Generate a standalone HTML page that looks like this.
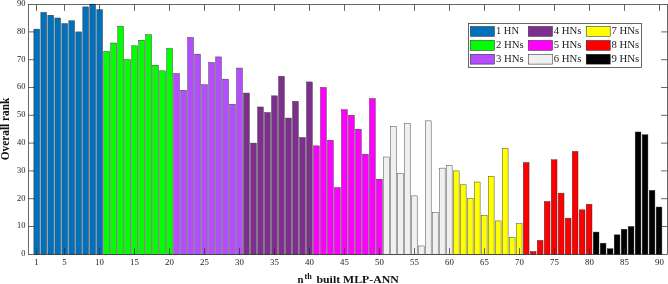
<!DOCTYPE html><html><head><meta charset="utf-8"><title>chart</title><style>html,body{margin:0;padding:0;background:#fff}svg{display:block}text{font-family:"Liberation Serif",serif}</style></head><body>
<svg width="668" height="284" viewBox="0 0 668 284">
<rect width="668" height="284" fill="#fff"/>
<rect x="33.87" y="29.12" width="5.75" height="225.38" fill="#0072bd" stroke="#2a2a2a" stroke-width="0.42"/>
<rect x="40.86" y="12.44" width="5.75" height="242.06" fill="#0072bd" stroke="#2a2a2a" stroke-width="0.42"/>
<rect x="47.85" y="15.22" width="5.75" height="239.28" fill="#0072bd" stroke="#2a2a2a" stroke-width="0.42"/>
<rect x="54.84" y="18.00" width="5.75" height="236.50" fill="#0072bd" stroke="#2a2a2a" stroke-width="0.42"/>
<rect x="61.84" y="23.56" width="5.75" height="230.94" fill="#0072bd" stroke="#2a2a2a" stroke-width="0.42"/>
<rect x="68.83" y="20.78" width="5.75" height="233.72" fill="#0072bd" stroke="#2a2a2a" stroke-width="0.42"/>
<rect x="75.82" y="31.90" width="5.75" height="222.60" fill="#0072bd" stroke="#2a2a2a" stroke-width="0.42"/>
<rect x="82.81" y="6.88" width="5.75" height="247.62" fill="#0072bd" stroke="#2a2a2a" stroke-width="0.42"/>
<rect x="89.80" y="4.10" width="5.75" height="250.40" fill="#0072bd" stroke="#2a2a2a" stroke-width="0.42"/>
<rect x="96.80" y="9.66" width="5.75" height="244.84" fill="#0072bd" stroke="#2a2a2a" stroke-width="0.42"/>
<rect x="103.79" y="51.36" width="5.75" height="203.14" fill="#00ff00" stroke="#2a2a2a" stroke-width="0.42"/>
<rect x="110.78" y="43.02" width="5.75" height="211.48" fill="#00ff00" stroke="#2a2a2a" stroke-width="0.42"/>
<rect x="117.77" y="26.34" width="5.75" height="228.16" fill="#00ff00" stroke="#2a2a2a" stroke-width="0.42"/>
<rect x="124.76" y="59.70" width="5.75" height="194.80" fill="#00ff00" stroke="#2a2a2a" stroke-width="0.42"/>
<rect x="131.75" y="45.80" width="5.75" height="208.70" fill="#00ff00" stroke="#2a2a2a" stroke-width="0.42"/>
<rect x="138.75" y="40.24" width="5.75" height="214.26" fill="#00ff00" stroke="#2a2a2a" stroke-width="0.42"/>
<rect x="145.74" y="34.68" width="5.75" height="219.82" fill="#00ff00" stroke="#2a2a2a" stroke-width="0.42"/>
<rect x="152.73" y="65.26" width="5.75" height="189.24" fill="#00ff00" stroke="#2a2a2a" stroke-width="0.42"/>
<rect x="159.72" y="70.82" width="5.75" height="183.68" fill="#00ff00" stroke="#2a2a2a" stroke-width="0.42"/>
<rect x="166.72" y="48.58" width="5.75" height="205.92" fill="#00ff00" stroke="#2a2a2a" stroke-width="0.42"/>
<rect x="173.71" y="73.60" width="5.75" height="180.90" fill="#b34dff" stroke="#2a2a2a" stroke-width="0.42"/>
<rect x="180.70" y="90.28" width="5.75" height="164.22" fill="#b34dff" stroke="#2a2a2a" stroke-width="0.42"/>
<rect x="187.69" y="37.46" width="5.75" height="217.04" fill="#b34dff" stroke="#2a2a2a" stroke-width="0.42"/>
<rect x="194.68" y="54.14" width="5.75" height="200.36" fill="#b34dff" stroke="#2a2a2a" stroke-width="0.42"/>
<rect x="201.68" y="84.72" width="5.75" height="169.78" fill="#b34dff" stroke="#2a2a2a" stroke-width="0.42"/>
<rect x="208.67" y="62.48" width="5.75" height="192.02" fill="#b34dff" stroke="#2a2a2a" stroke-width="0.42"/>
<rect x="215.66" y="56.92" width="5.75" height="197.58" fill="#b34dff" stroke="#2a2a2a" stroke-width="0.42"/>
<rect x="222.65" y="79.16" width="5.75" height="175.34" fill="#b34dff" stroke="#2a2a2a" stroke-width="0.42"/>
<rect x="229.64" y="104.18" width="5.75" height="150.32" fill="#b34dff" stroke="#2a2a2a" stroke-width="0.42"/>
<rect x="236.63" y="68.04" width="5.75" height="186.46" fill="#b34dff" stroke="#2a2a2a" stroke-width="0.42"/>
<rect x="243.63" y="93.06" width="5.75" height="161.44" fill="#7e2f8e" stroke="#2a2a2a" stroke-width="0.42"/>
<rect x="250.62" y="143.10" width="5.75" height="111.40" fill="#7e2f8e" stroke="#2a2a2a" stroke-width="0.42"/>
<rect x="257.61" y="106.96" width="5.75" height="147.54" fill="#7e2f8e" stroke="#2a2a2a" stroke-width="0.42"/>
<rect x="264.60" y="112.52" width="5.75" height="141.98" fill="#7e2f8e" stroke="#2a2a2a" stroke-width="0.42"/>
<rect x="271.60" y="95.84" width="5.75" height="158.66" fill="#7e2f8e" stroke="#2a2a2a" stroke-width="0.42"/>
<rect x="278.59" y="76.38" width="5.75" height="178.12" fill="#7e2f8e" stroke="#2a2a2a" stroke-width="0.42"/>
<rect x="285.58" y="118.08" width="5.75" height="136.42" fill="#7e2f8e" stroke="#2a2a2a" stroke-width="0.42"/>
<rect x="292.57" y="101.40" width="5.75" height="153.10" fill="#7e2f8e" stroke="#2a2a2a" stroke-width="0.42"/>
<rect x="299.56" y="137.54" width="5.75" height="116.96" fill="#7e2f8e" stroke="#2a2a2a" stroke-width="0.42"/>
<rect x="306.56" y="81.94" width="5.75" height="172.56" fill="#7e2f8e" stroke="#2a2a2a" stroke-width="0.42"/>
<rect x="313.55" y="145.88" width="5.75" height="108.62" fill="#ff00ff" stroke="#2a2a2a" stroke-width="0.42"/>
<rect x="320.54" y="87.50" width="5.75" height="167.00" fill="#ff00ff" stroke="#2a2a2a" stroke-width="0.42"/>
<rect x="327.53" y="140.32" width="5.75" height="114.18" fill="#ff00ff" stroke="#2a2a2a" stroke-width="0.42"/>
<rect x="334.52" y="187.58" width="5.75" height="66.92" fill="#ff00ff" stroke="#2a2a2a" stroke-width="0.42"/>
<rect x="341.51" y="109.74" width="5.75" height="144.76" fill="#ff00ff" stroke="#2a2a2a" stroke-width="0.42"/>
<rect x="348.51" y="115.30" width="5.75" height="139.20" fill="#ff00ff" stroke="#2a2a2a" stroke-width="0.42"/>
<rect x="355.50" y="129.20" width="5.75" height="125.30" fill="#ff00ff" stroke="#2a2a2a" stroke-width="0.42"/>
<rect x="362.49" y="154.22" width="5.75" height="100.28" fill="#ff00ff" stroke="#2a2a2a" stroke-width="0.42"/>
<rect x="369.48" y="98.62" width="5.75" height="155.88" fill="#ff00ff" stroke="#2a2a2a" stroke-width="0.42"/>
<rect x="376.48" y="179.24" width="5.75" height="75.26" fill="#ff00ff" stroke="#2a2a2a" stroke-width="0.42"/>
<rect x="383.47" y="157.00" width="5.75" height="97.50" fill="#f0f0f0" stroke="#2a2a2a" stroke-width="0.42"/>
<rect x="390.46" y="126.42" width="5.75" height="128.08" fill="#f0f0f0" stroke="#2a2a2a" stroke-width="0.42"/>
<rect x="397.45" y="173.68" width="5.75" height="80.82" fill="#f0f0f0" stroke="#2a2a2a" stroke-width="0.42"/>
<rect x="404.44" y="123.64" width="5.75" height="130.86" fill="#f0f0f0" stroke="#2a2a2a" stroke-width="0.42"/>
<rect x="411.44" y="195.92" width="5.75" height="58.58" fill="#f0f0f0" stroke="#2a2a2a" stroke-width="0.42"/>
<rect x="418.43" y="245.96" width="5.75" height="8.54" fill="#f0f0f0" stroke="#2a2a2a" stroke-width="0.42"/>
<rect x="425.42" y="120.86" width="5.75" height="133.64" fill="#f0f0f0" stroke="#2a2a2a" stroke-width="0.42"/>
<rect x="432.41" y="212.60" width="5.75" height="41.90" fill="#f0f0f0" stroke="#2a2a2a" stroke-width="0.42"/>
<rect x="439.40" y="168.12" width="5.75" height="86.38" fill="#f0f0f0" stroke="#2a2a2a" stroke-width="0.42"/>
<rect x="446.39" y="165.34" width="5.75" height="89.16" fill="#f0f0f0" stroke="#2a2a2a" stroke-width="0.42"/>
<rect x="453.39" y="170.90" width="5.75" height="83.60" fill="#ffff00" stroke="#2a2a2a" stroke-width="0.42"/>
<rect x="460.38" y="184.80" width="5.75" height="69.70" fill="#ffff00" stroke="#2a2a2a" stroke-width="0.42"/>
<rect x="467.37" y="198.70" width="5.75" height="55.80" fill="#ffff00" stroke="#2a2a2a" stroke-width="0.42"/>
<rect x="474.36" y="182.02" width="5.75" height="72.48" fill="#ffff00" stroke="#2a2a2a" stroke-width="0.42"/>
<rect x="481.36" y="215.38" width="5.75" height="39.12" fill="#ffff00" stroke="#2a2a2a" stroke-width="0.42"/>
<rect x="488.35" y="176.46" width="5.75" height="78.04" fill="#ffff00" stroke="#2a2a2a" stroke-width="0.42"/>
<rect x="495.34" y="220.94" width="5.75" height="33.56" fill="#ffff00" stroke="#2a2a2a" stroke-width="0.42"/>
<rect x="502.33" y="148.66" width="5.75" height="105.84" fill="#ffff00" stroke="#2a2a2a" stroke-width="0.42"/>
<rect x="509.32" y="237.62" width="5.75" height="16.88" fill="#ffff00" stroke="#2a2a2a" stroke-width="0.42"/>
<rect x="516.32" y="223.72" width="5.75" height="30.78" fill="#ffff00" stroke="#2a2a2a" stroke-width="0.42"/>
<rect x="523.31" y="162.56" width="5.75" height="91.94" fill="#ff0000" stroke="#2a2a2a" stroke-width="0.42"/>
<rect x="530.30" y="251.52" width="5.75" height="2.98" fill="#ff0000" stroke="#2a2a2a" stroke-width="0.42"/>
<rect x="537.29" y="240.40" width="5.75" height="14.10" fill="#ff0000" stroke="#2a2a2a" stroke-width="0.42"/>
<rect x="544.28" y="201.48" width="5.75" height="53.02" fill="#ff0000" stroke="#2a2a2a" stroke-width="0.42"/>
<rect x="551.27" y="159.78" width="5.75" height="94.72" fill="#ff0000" stroke="#2a2a2a" stroke-width="0.42"/>
<rect x="558.27" y="193.14" width="5.75" height="61.36" fill="#ff0000" stroke="#2a2a2a" stroke-width="0.42"/>
<rect x="565.26" y="218.16" width="5.75" height="36.34" fill="#ff0000" stroke="#2a2a2a" stroke-width="0.42"/>
<rect x="572.25" y="151.44" width="5.75" height="103.06" fill="#ff0000" stroke="#2a2a2a" stroke-width="0.42"/>
<rect x="579.24" y="209.82" width="5.75" height="44.68" fill="#ff0000" stroke="#2a2a2a" stroke-width="0.42"/>
<rect x="586.24" y="204.26" width="5.75" height="50.24" fill="#ff0000" stroke="#2a2a2a" stroke-width="0.42"/>
<rect x="593.23" y="232.06" width="5.75" height="22.44" fill="#000000" stroke="#2a2a2a" stroke-width="0.42"/>
<rect x="600.22" y="243.18" width="5.75" height="11.32" fill="#000000" stroke="#2a2a2a" stroke-width="0.42"/>
<rect x="607.21" y="248.74" width="5.75" height="5.76" fill="#000000" stroke="#2a2a2a" stroke-width="0.42"/>
<rect x="614.20" y="234.84" width="5.75" height="19.66" fill="#000000" stroke="#2a2a2a" stroke-width="0.42"/>
<rect x="621.20" y="229.28" width="5.75" height="25.22" fill="#000000" stroke="#2a2a2a" stroke-width="0.42"/>
<rect x="628.19" y="226.50" width="5.75" height="28.00" fill="#000000" stroke="#2a2a2a" stroke-width="0.42"/>
<rect x="635.18" y="131.98" width="5.75" height="122.52" fill="#000000" stroke="#2a2a2a" stroke-width="0.42"/>
<rect x="642.17" y="134.76" width="5.75" height="119.74" fill="#000000" stroke="#2a2a2a" stroke-width="0.42"/>
<rect x="649.16" y="190.36" width="5.75" height="64.14" fill="#000000" stroke="#2a2a2a" stroke-width="0.42"/>
<rect x="656.15" y="207.04" width="5.75" height="47.46" fill="#000000" stroke="#2a2a2a" stroke-width="0.42"/>
<rect x="28.5" y="4.5" width="639.0" height="250.0" fill="none" stroke="#262626" stroke-width="0.7"/>
<path d="M36.5 254.5v-6.4M36.5 4.5v6.4" stroke="#262626" stroke-width="0.7" fill="none"/>
<text x="36.5" y="264.7" font-size="8.4" text-anchor="middle" fill="#1a1a1a" textLength="4.4" lengthAdjust="spacingAndGlyphs">1</text>
<path d="M64.5 254.5v-6.4M64.5 4.5v6.4" stroke="#262626" stroke-width="0.7" fill="none"/>
<text x="64.5" y="264.7" font-size="8.4" text-anchor="middle" fill="#1a1a1a" textLength="4.4" lengthAdjust="spacingAndGlyphs">5</text>
<path d="M99.5 254.5v-6.4M99.5 4.5v6.4" stroke="#262626" stroke-width="0.7" fill="none"/>
<text x="99.5" y="264.7" font-size="8.4" text-anchor="middle" fill="#1a1a1a" textLength="8.8" lengthAdjust="spacingAndGlyphs">10</text>
<path d="M134.5 254.5v-6.4M134.5 4.5v6.4" stroke="#262626" stroke-width="0.7" fill="none"/>
<text x="134.5" y="264.7" font-size="8.4" text-anchor="middle" fill="#1a1a1a" textLength="8.8" lengthAdjust="spacingAndGlyphs">15</text>
<path d="M169.5 254.5v-6.4M169.5 4.5v6.4" stroke="#262626" stroke-width="0.7" fill="none"/>
<text x="169.5" y="264.7" font-size="8.4" text-anchor="middle" fill="#1a1a1a" textLength="8.8" lengthAdjust="spacingAndGlyphs">20</text>
<path d="M204.5 254.5v-6.4M204.5 4.5v6.4" stroke="#262626" stroke-width="0.7" fill="none"/>
<text x="204.5" y="264.7" font-size="8.4" text-anchor="middle" fill="#1a1a1a" textLength="8.8" lengthAdjust="spacingAndGlyphs">25</text>
<path d="M239.5 254.5v-6.4M239.5 4.5v6.4" stroke="#262626" stroke-width="0.7" fill="none"/>
<text x="239.5" y="264.7" font-size="8.4" text-anchor="middle" fill="#1a1a1a" textLength="8.8" lengthAdjust="spacingAndGlyphs">30</text>
<path d="M274.5 254.5v-6.4M274.5 4.5v6.4" stroke="#262626" stroke-width="0.7" fill="none"/>
<text x="274.5" y="264.7" font-size="8.4" text-anchor="middle" fill="#1a1a1a" textLength="8.8" lengthAdjust="spacingAndGlyphs">35</text>
<path d="M309.5 254.5v-6.4M309.5 4.5v6.4" stroke="#262626" stroke-width="0.7" fill="none"/>
<text x="309.5" y="264.7" font-size="8.4" text-anchor="middle" fill="#1a1a1a" textLength="8.8" lengthAdjust="spacingAndGlyphs">40</text>
<path d="M344.5 254.5v-6.4M344.5 4.5v6.4" stroke="#262626" stroke-width="0.7" fill="none"/>
<text x="344.5" y="264.7" font-size="8.4" text-anchor="middle" fill="#1a1a1a" textLength="8.8" lengthAdjust="spacingAndGlyphs">45</text>
<path d="M379.5 254.5v-6.4M379.5 4.5v6.4" stroke="#262626" stroke-width="0.7" fill="none"/>
<text x="379.5" y="264.7" font-size="8.4" text-anchor="middle" fill="#1a1a1a" textLength="8.8" lengthAdjust="spacingAndGlyphs">50</text>
<path d="M414.5 254.5v-6.4M414.5 4.5v6.4" stroke="#262626" stroke-width="0.7" fill="none"/>
<text x="414.5" y="264.7" font-size="8.4" text-anchor="middle" fill="#1a1a1a" textLength="8.8" lengthAdjust="spacingAndGlyphs">55</text>
<path d="M449.5 254.5v-6.4M449.5 4.5v6.4" stroke="#262626" stroke-width="0.7" fill="none"/>
<text x="449.5" y="264.7" font-size="8.4" text-anchor="middle" fill="#1a1a1a" textLength="8.8" lengthAdjust="spacingAndGlyphs">60</text>
<path d="M484.5 254.5v-6.4M484.5 4.5v6.4" stroke="#262626" stroke-width="0.7" fill="none"/>
<text x="484.5" y="264.7" font-size="8.4" text-anchor="middle" fill="#1a1a1a" textLength="8.8" lengthAdjust="spacingAndGlyphs">65</text>
<path d="M519.5 254.5v-6.4M519.5 4.5v6.4" stroke="#262626" stroke-width="0.7" fill="none"/>
<text x="519.5" y="264.7" font-size="8.4" text-anchor="middle" fill="#1a1a1a" textLength="8.8" lengthAdjust="spacingAndGlyphs">70</text>
<path d="M554.5 254.5v-6.4M554.5 4.5v6.4" stroke="#262626" stroke-width="0.7" fill="none"/>
<text x="554.5" y="264.7" font-size="8.4" text-anchor="middle" fill="#1a1a1a" textLength="8.8" lengthAdjust="spacingAndGlyphs">75</text>
<path d="M589.5 254.5v-6.4M589.5 4.5v6.4" stroke="#262626" stroke-width="0.7" fill="none"/>
<text x="589.5" y="264.7" font-size="8.4" text-anchor="middle" fill="#1a1a1a" textLength="8.8" lengthAdjust="spacingAndGlyphs">80</text>
<path d="M624.5 254.5v-6.4M624.5 4.5v6.4" stroke="#262626" stroke-width="0.7" fill="none"/>
<text x="624.5" y="264.7" font-size="8.4" text-anchor="middle" fill="#1a1a1a" textLength="8.8" lengthAdjust="spacingAndGlyphs">85</text>
<path d="M659.5 254.5v-6.4M659.5 4.5v6.4" stroke="#262626" stroke-width="0.7" fill="none"/>
<text x="659.5" y="264.7" font-size="8.4" text-anchor="middle" fill="#1a1a1a" textLength="8.8" lengthAdjust="spacingAndGlyphs">90</text>
<text x="25.4" y="256.20" font-size="8.4" text-anchor="end" fill="#1a1a1a">0</text>
<path d="M28.5 226.50h6.4M667.5 226.50h-6.4" stroke="#262626" stroke-width="0.7" fill="none"/>
<text x="25.4" y="228.40" font-size="8.4" text-anchor="end" fill="#1a1a1a">10</text>
<path d="M28.5 198.70h6.4M667.5 198.70h-6.4" stroke="#262626" stroke-width="0.7" fill="none"/>
<text x="25.4" y="200.60" font-size="8.4" text-anchor="end" fill="#1a1a1a">20</text>
<path d="M28.5 170.90h6.4M667.5 170.90h-6.4" stroke="#262626" stroke-width="0.7" fill="none"/>
<text x="25.4" y="172.80" font-size="8.4" text-anchor="end" fill="#1a1a1a">30</text>
<path d="M28.5 143.10h6.4M667.5 143.10h-6.4" stroke="#262626" stroke-width="0.7" fill="none"/>
<text x="25.4" y="145.00" font-size="8.4" text-anchor="end" fill="#1a1a1a">40</text>
<path d="M28.5 115.30h6.4M667.5 115.30h-6.4" stroke="#262626" stroke-width="0.7" fill="none"/>
<text x="25.4" y="117.20" font-size="8.4" text-anchor="end" fill="#1a1a1a">50</text>
<path d="M28.5 87.50h6.4M667.5 87.50h-6.4" stroke="#262626" stroke-width="0.7" fill="none"/>
<text x="25.4" y="89.40" font-size="8.4" text-anchor="end" fill="#1a1a1a">60</text>
<path d="M28.5 59.70h6.4M667.5 59.70h-6.4" stroke="#262626" stroke-width="0.7" fill="none"/>
<text x="25.4" y="61.60" font-size="8.4" text-anchor="end" fill="#1a1a1a">70</text>
<path d="M28.5 31.90h6.4M667.5 31.90h-6.4" stroke="#262626" stroke-width="0.7" fill="none"/>
<text x="25.4" y="33.80" font-size="8.4" text-anchor="end" fill="#1a1a1a">80</text>
<text x="25.4" y="6.00" font-size="8.4" text-anchor="end" fill="#1a1a1a">90</text>
<g font-size="10.5" font-weight="bold" fill="#111"><text x="297.5" y="282.8" textLength="6.0" lengthAdjust="spacingAndGlyphs">n</text><text x="304.6" y="278.8" font-size="7.8" textLength="7.3" lengthAdjust="spacingAndGlyphs">th</text><text x="316.5" y="282.8" textLength="82.2" lengthAdjust="spacingAndGlyphs">built MLP-ANN</text>
<text transform="translate(9.1,160.3) rotate(-90)" font-size="11.6" textLength="62.6" lengthAdjust="spacingAndGlyphs">Overall rank</text></g>
<rect x="468.5" y="23.5" width="173" height="44" fill="#fff" stroke="#262626" stroke-width="0.7"/>
<rect x="470.4" y="26.5" width="24.0" height="9.8" fill="#0072bd" stroke="#1a1a1a" stroke-width="0.5"/>
<text x="496.0" y="34.1" font-size="9.9" fill="#222" textLength="23.0" lengthAdjust="spacingAndGlyphs">1 HN</text>
<rect x="470.4" y="40.5" width="24.0" height="9.8" fill="#00ff00" stroke="#1a1a1a" stroke-width="0.5"/>
<text x="496.0" y="48.0" font-size="9.9" fill="#222" textLength="27.8" lengthAdjust="spacingAndGlyphs">2 HNs</text>
<rect x="470.4" y="54.3" width="24.0" height="9.8" fill="#b34dff" stroke="#1a1a1a" stroke-width="0.5"/>
<text x="496.0" y="61.9" font-size="9.9" fill="#222" textLength="27.8" lengthAdjust="spacingAndGlyphs">3 HNs</text>
<rect x="528.4" y="26.5" width="24.0" height="9.8" fill="#7e2f8e" stroke="#1a1a1a" stroke-width="0.5"/>
<text x="553.7" y="34.1" font-size="9.9" fill="#222" textLength="27.8" lengthAdjust="spacingAndGlyphs">4 HNs</text>
<rect x="528.4" y="40.5" width="24.0" height="9.8" fill="#ff00ff" stroke="#1a1a1a" stroke-width="0.5"/>
<text x="553.7" y="48.0" font-size="9.9" fill="#222" textLength="27.8" lengthAdjust="spacingAndGlyphs">5 HNs</text>
<rect x="528.4" y="54.3" width="24.0" height="9.8" fill="#f0f0f0" stroke="#1a1a1a" stroke-width="0.5"/>
<text x="553.7" y="61.9" font-size="9.9" fill="#222" textLength="27.8" lengthAdjust="spacingAndGlyphs">6 HNs</text>
<rect x="586.2" y="26.5" width="24.0" height="9.8" fill="#ffff00" stroke="#1a1a1a" stroke-width="0.5"/>
<text x="611.5" y="34.1" font-size="9.9" fill="#222" textLength="27.8" lengthAdjust="spacingAndGlyphs">7 HNs</text>
<rect x="586.2" y="40.5" width="24.0" height="9.8" fill="#ff0000" stroke="#1a1a1a" stroke-width="0.5"/>
<text x="611.5" y="48.0" font-size="9.9" fill="#222" textLength="27.8" lengthAdjust="spacingAndGlyphs">8 HNs</text>
<rect x="586.2" y="54.3" width="24.0" height="9.8" fill="#000000" stroke="#1a1a1a" stroke-width="0.5"/>
<text x="611.5" y="61.9" font-size="9.9" fill="#222" textLength="27.8" lengthAdjust="spacingAndGlyphs">9 HNs</text>
</svg></body></html>
